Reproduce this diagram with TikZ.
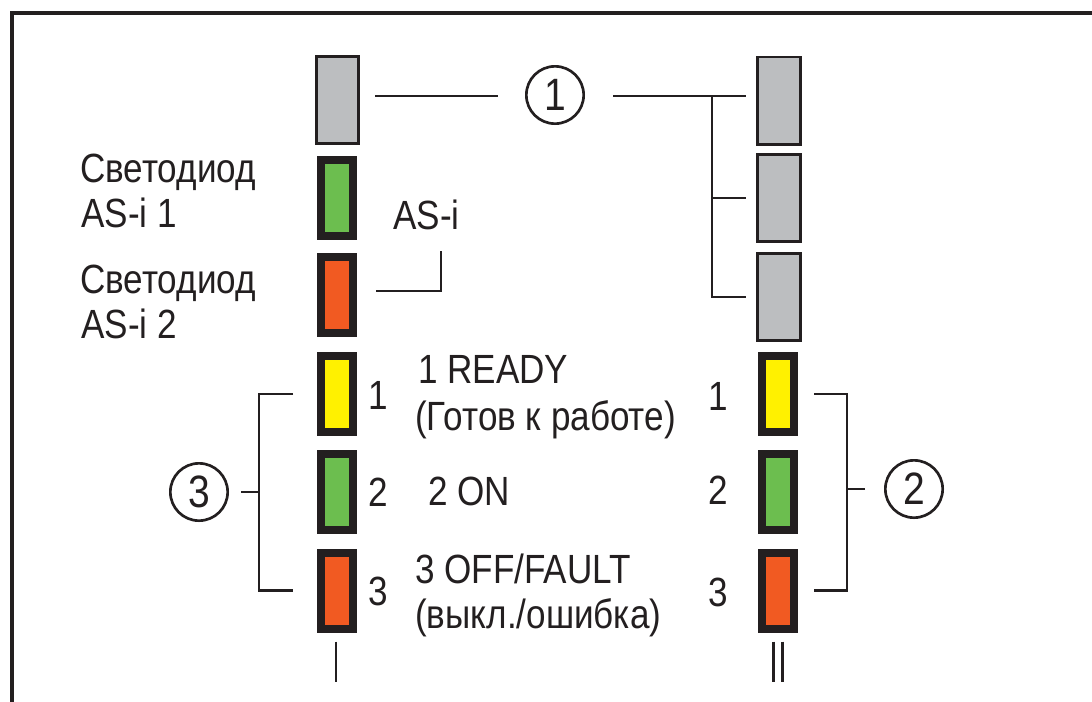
\documentclass[tikz,border=0pt]{standalone}
\usepackage{fontspec}
\setmainfont{Liberation Sans}[FakeStretch=0.86]
\usetikzlibrary{calc}
\definecolor{ink}{HTML}{231F20}
\definecolor{ledgray}{HTML}{BCBEC0}
\definecolor{ledgreen}{HTML}{6CBE4F}
\definecolor{ledred}{HTML}{F15A22}
\definecolor{ledyellow}{HTML}{FFF100}
\begin{document}
\begin{tikzpicture}[x=0.75pt,y=-0.75pt,
  font=\fontsize{30.6}{34}\selectfont,
  led/.style={draw=ink, line width=6pt, minimum width=24pt, minimum height=57pt, inner sep=0pt},
  grayled/.style={draw=ink, fill=ledgray, line width=2pt, minimum width=31.8pt, minimum height=65.5pt, inner sep=0pt},
  wire/.style={draw=ink, line width=2pt},
  callout/.style={circle, draw=ink, line width=2pt, minimum size=43pt, inner sep=0pt, text=ink, font=\fontsize{34}{36}\selectfont},
  lbl/.style={inner sep=0pt, anchor=base west, text=ink},
  num/.style={inner sep=0pt, anchor=base, text=ink},
  romanmark/.style={draw=ink, line width=2pt}]
\useasboundingbox (0,0) rectangle (1092,701);
% frame
\draw[ink, line width=3pt] (10,13) -- (1096,13);
\draw[ink, line width=3pt] (12,11.5) -- (12,705);
% left column
\node[grayled] (gL) at (337.5,100) {};
\node[led, fill=ledgreen] (aL1) at (337,197.5) {};
\node[led, fill=ledred] (aL2) at (337,295) {};
\node[led, fill=ledyellow] (yL) at (337,394) {};
\node[led, fill=ledgreen] (gnL) at (337,492) {};
\node[led, fill=ledred] (rL) at (337,590.5) {};
% right column
\node[grayled] (gR1) at (779,100.5) {};
\node[grayled] (gR2) at (779,198) {};
\node[grayled] (gR3) at (779,297) {};
\node[led, fill=ledyellow] (yR) at (778,394) {};
\node[led, fill=ledgreen] (gnR) at (778,492) {};
\node[led, fill=ledred] (rR) at (778,590.5) {};
% callouts
\node[callout] (c1) at (555,95) {1};
\node[callout] (c3) at (199,492) {3};
\node[callout] (c2) at (914,489) {2};
% labels
\node[lbl] (sv1) at (80,182) {Светодиод};
\node[lbl] (as1) at (81,227) {AS-i 1};
\node[lbl] (sv2) at (80,293) {Светодиод};
\node[lbl] (as2) at (81,338) {AS-i 2};
\node[lbl] (asi) at (393,229) {AS-i};
\node[lbl] (t1a) at (418,383) {1 READY};
\node[lbl] (t1b) at (415,430) {(Готов к работе)};
\node[lbl] (t2) at (428,505) {2 ON};
\node[lbl] (t3a) at (415,583) {3 OFF/FAULT};
\node[lbl] (t3b) at (415,628) {(выкл./ошибка)};
\node[num] (nL1) at (378,409) {1};
\node[num] (nL2) at (378,506) {2};
\node[num] (nL3) at (378,605) {3};
\node[num] (nR1) at (718,410) {1};
\node[num] (nR2) at (718,504) {2};
\node[num] (nR3) at (718,606) {3};
% connectors for callout 1
\draw[wire] ($(gL.east |- 0,96)+(15,0)$) -- ($(c1.west |- 0,96)+(-27,0)$);
\draw[wire] ($(c1.east |- 0,96)+(28,0)$) -- ($(gR1.west |- 0,96)+(-10,0)$);
\coordinate (j1) at (712,96);
\draw[wire] (j1) |- ($(gR3.west)+(-10,0)$);
\draw[wire] (j1 |- gR2) -- ($(gR2.west)+(-10,0)$);
% AS-i connector
\coordinate (asiTop) at (441,251);
\draw[wire] ($(aL2.east)+(19,-4)$) -| (asiTop);
% bracket 3
\draw[wire] ($(yL.west)+(-24,0)$) -| ($(rL.west)+(-58,0)$) -- ($(rL.west)+(-24,0)$);
\draw[wire] ($(c3.east)+(12,0)$) -- ($(gnL.west |- c3)+(-58,0)$);
% bracket 2
\draw[wire] ($(yR.east)+(16,0)$) -| ($(rR.east)+(49,0)$) -- ($(rR.east)+(16,0)$);
\draw[wire] ($(c2.west)+(-19,0)$) -- ($(gnR.east |- c2)+(49,0)$);
% I and II marks
\draw[romanmark] ($(rL.south)+(-1,9)$) -- ++(0,40);
\draw[romanmark] ($(rR.south)+(-4.5,9)$) -- ++(0,40);
\draw[romanmark] ($(rR.south)+(4.5,9)$) -- ++(0,40);
\end{tikzpicture}
\end{document}
